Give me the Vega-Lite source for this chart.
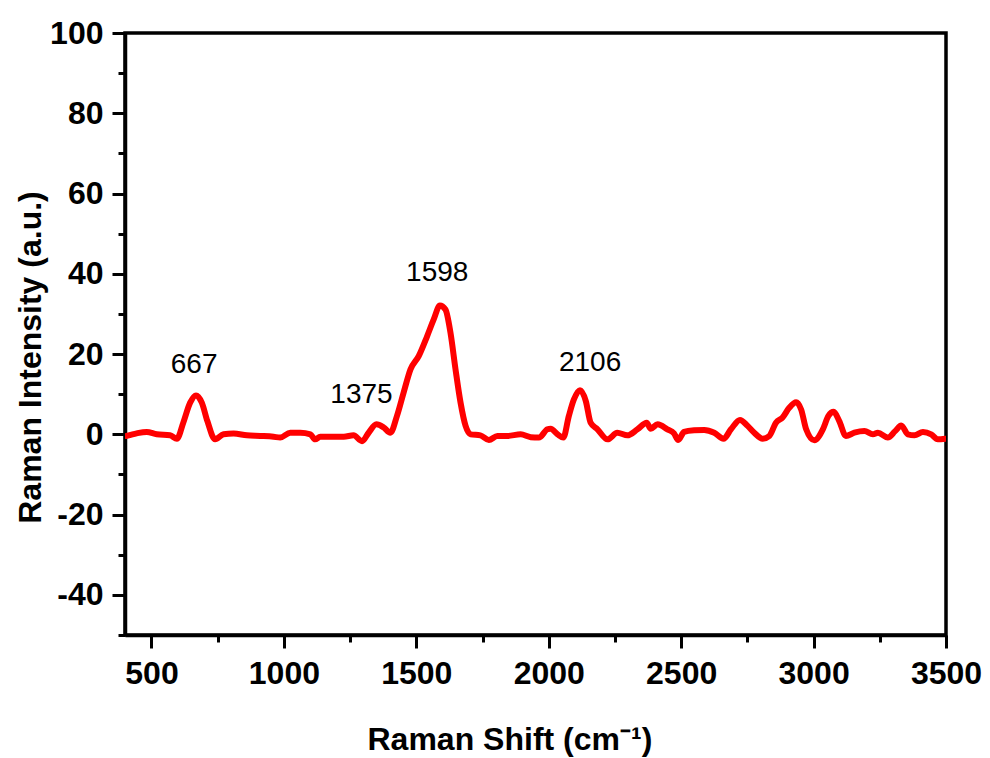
{
  "$schema": "https://vega.github.io/schema/vega-lite/v6.json",
  "width": 821,
  "height": 602,
  "autosize": {"type": "none"},
  "padding": {"left": 125, "top": 33, "right": 44, "bottom": 123},
  "background": "white",
  "config": {
    "view": {"stroke": "black", "strokeWidth": 3.5},
    "axis": {"grid": false, "domainColor": "black", "domainWidth": 3.5, "tickColor": "black", "tickWidth": 3, "labelFont": "Liberation Sans", "labelFontWeight": "bold", "labelFontSize": 32, "labelColor": "black", "titleFont": "Liberation Sans", "titleFontWeight": "bold", "titleFontSize": 32, "titleColor": "black", "labelOverlap": false, "labelFlush": false, "labelBound": false}
  },
  "datasets": {
    "spectrum": [
      {"shift": 406, "intensity": -0.4}, {"shift": 444, "intensity": 0.25}, {"shift": 482, "intensity": 0.6}, {"shift": 520, "intensity": 0}, {"shift": 570, "intensity": -0.25}, {"shift": 596, "intensity": -1.1}, {"shift": 620, "intensity": 2.9}, {"shift": 646, "intensity": 7.9}, {"shift": 668, "intensity": 9.7}, {"shift": 690, "intensity": 7.9}, {"shift": 711, "intensity": 3.3}, {"shift": 740, "intensity": -1.25}, {"shift": 772, "intensity": 0}, {"shift": 810, "intensity": 0.2}, {"shift": 860, "intensity": -0.25}, {"shift": 911, "intensity": -0.4}, {"shift": 961, "intensity": -0.6}, {"shift": 986, "intensity": -0.8}, {"shift": 1024, "intensity": 0.4}, {"shift": 1062, "intensity": 0.4}, {"shift": 1100, "intensity": 0}, {"shift": 1118, "intensity": -1.25}, {"shift": 1137, "intensity": -0.6}, {"shift": 1175, "intensity": -0.6}, {"shift": 1207, "intensity": -0.6}, {"shift": 1226, "intensity": -0.6}, {"shift": 1263, "intensity": -0.25}, {"shift": 1295, "intensity": -1.7}, {"shift": 1320, "intensity": 0.4}, {"shift": 1349, "intensity": 2.5}, {"shift": 1377, "intensity": 1.7}, {"shift": 1402, "intensity": 0.4}, {"shift": 1427, "intensity": 4.6}, {"shift": 1452, "intensity": 10.4}, {"shift": 1478, "intensity": 16.2}, {"shift": 1509, "intensity": 19.5}, {"shift": 1541, "intensity": 24.5}, {"shift": 1566, "intensity": 28.7}, {"shift": 1589, "intensity": 32.1}, {"shift": 1610, "intensity": 31.1}, {"shift": 1629, "intensity": 25.3}, {"shift": 1648, "intensity": 16.2}, {"shift": 1667, "intensity": 7.9}, {"shift": 1686, "intensity": 2.1}, {"shift": 1705, "intensity": 0}, {"shift": 1742, "intensity": -0.25}, {"shift": 1774, "intensity": -1.4}, {"shift": 1806, "intensity": -0.4}, {"shift": 1843, "intensity": -0.4}, {"shift": 1894, "intensity": 0}, {"shift": 1932, "intensity": -0.7}, {"shift": 1963, "intensity": -0.8}, {"shift": 1995, "intensity": 1.25}, {"shift": 2007, "intensity": 1.4}, {"shift": 2033, "intensity": 0}, {"shift": 2055, "intensity": -0.8}, {"shift": 2076, "intensity": 4.6}, {"shift": 2095, "intensity": 8.7}, {"shift": 2118, "intensity": 11.0}, {"shift": 2140, "intensity": 8.3}, {"shift": 2158, "intensity": 2.9}, {"shift": 2184, "intensity": 1.25}, {"shift": 2222, "intensity": -1.25}, {"shift": 2259, "intensity": 0.4}, {"shift": 2297, "intensity": -0.25}, {"shift": 2335, "intensity": 1.25}, {"shift": 2370, "intensity": 2.9}, {"shift": 2385, "intensity": 1.4}, {"shift": 2411, "intensity": 2.5}, {"shift": 2448, "intensity": 1.25}, {"shift": 2473, "intensity": 0.25}, {"shift": 2489, "intensity": -1.4}, {"shift": 2511, "intensity": 0.6}, {"shift": 2549, "intensity": 1.0}, {"shift": 2587, "intensity": 1.1}, {"shift": 2625, "intensity": 0.4}, {"shift": 2660, "intensity": -1.1}, {"shift": 2688, "intensity": 1.25}, {"shift": 2722, "intensity": 3.6}, {"shift": 2751, "intensity": 2.1}, {"shift": 2776, "intensity": 0.4}, {"shift": 2808, "intensity": -1.1}, {"shift": 2833, "intensity": -0.4}, {"shift": 2858, "intensity": 2.9}, {"shift": 2883, "intensity": 4.2}, {"shift": 2908, "intensity": 6.6}, {"shift": 2934, "intensity": 8.0}, {"shift": 2953, "intensity": 6.2}, {"shift": 2972, "intensity": 1.25}, {"shift": 3003, "intensity": -1.5}, {"shift": 3035, "intensity": 1.25}, {"shift": 3056, "intensity": 4.6}, {"shift": 3076, "intensity": 5.6}, {"shift": 3097, "intensity": 3.3}, {"shift": 3122, "intensity": -0.4}, {"shift": 3154, "intensity": 0.4}, {"shift": 3192, "intensity": 0.8}, {"shift": 3224, "intensity": 0}, {"shift": 3243, "intensity": 0.4}, {"shift": 3280, "intensity": -0.8}, {"shift": 3308, "intensity": 0.8}, {"shift": 3331, "intensity": 2.2}, {"shift": 3356, "intensity": 0}, {"shift": 3381, "intensity": -0.25}, {"shift": 3413, "intensity": 0.6}, {"shift": 3444, "intensity": 0}, {"shift": 3469, "intensity": -1.25}, {"shift": 3497, "intensity": -1.1}
    ],
    "labels": [
      {"shift": 661, "intensity": 15.4, "text": "667"},
      {"shift": 1293, "intensity": 7.7, "text": "1375"},
      {"shift": 1579, "intensity": 38.1, "text": "1598"},
      {"shift": 2156, "intensity": 15.7, "text": "2106"}
    ]
  },
  "layer": [
    {
      "data": {"name": "spectrum"},
      "mark": {"type": "line", "color": "#ff0000", "strokeWidth": 6, "strokeJoin": "round", "strokeCap": "round", "interpolate": "monotone", "clip": true},
      "encoding": {
        "x": {
          "field": "shift", "type": "quantitative",
          "scale": {"domain": [400, 3500], "nice": false, "zero": false},
          "axis": {
            "values": [500, 750, 1000, 1250, 1500, 1750, 2000, 2250, 2500, 2750, 3000, 3250, 3500],
            "labelExpr": "datum.value % 500 === 0 ? toString(datum.value) : ''",
            "tickSize": {"condition": {"test": "datum.value % 500 === 0", "value": 13}, "value": 7},
            "labelPadding": 10,
            "title": "Raman Shift (cm⁻¹)",
            "titleAlign": "left",
            "titleBaseline": "alphabetic",
            "titleX": 242,
            "titleY": 114
          }
        },
        "y": {
          "field": "intensity", "type": "quantitative",
          "scale": {"domain": [-50, 100], "nice": false, "zero": false},
          "axis": {
            "values": [-50, -40, -30, -20, -10, 0, 10, 20, 30, 40, 50, 60, 70, 80, 90, 100],
            "labelExpr": "datum.value % 20 === 0 ? toString(datum.value) : ''",
            "tickSize": {"condition": {"test": "datum.value % 20 === 0", "value": 13}, "value": 7},
            "labelPadding": 9,
            "title": "Raman Intensity (a.u.)",
            "titleAlign": "center",
            "titleBaseline": "alphabetic",
            "titleX": -85,
            "titleY": 324,
            "titleAngle": -90
          }
        }
      }
    },
    {
      "data": {"name": "labels"},
      "mark": {"type": "text", "font": "Liberation Sans", "fontSize": 28, "fontWeight": "normal", "color": "black", "align": "center", "baseline": "alphabetic"},
      "encoding": {
        "x": {"field": "shift", "type": "quantitative"},
        "y": {"field": "intensity", "type": "quantitative"},
        "text": {"field": "text"}
      }
    }
  ]
}
